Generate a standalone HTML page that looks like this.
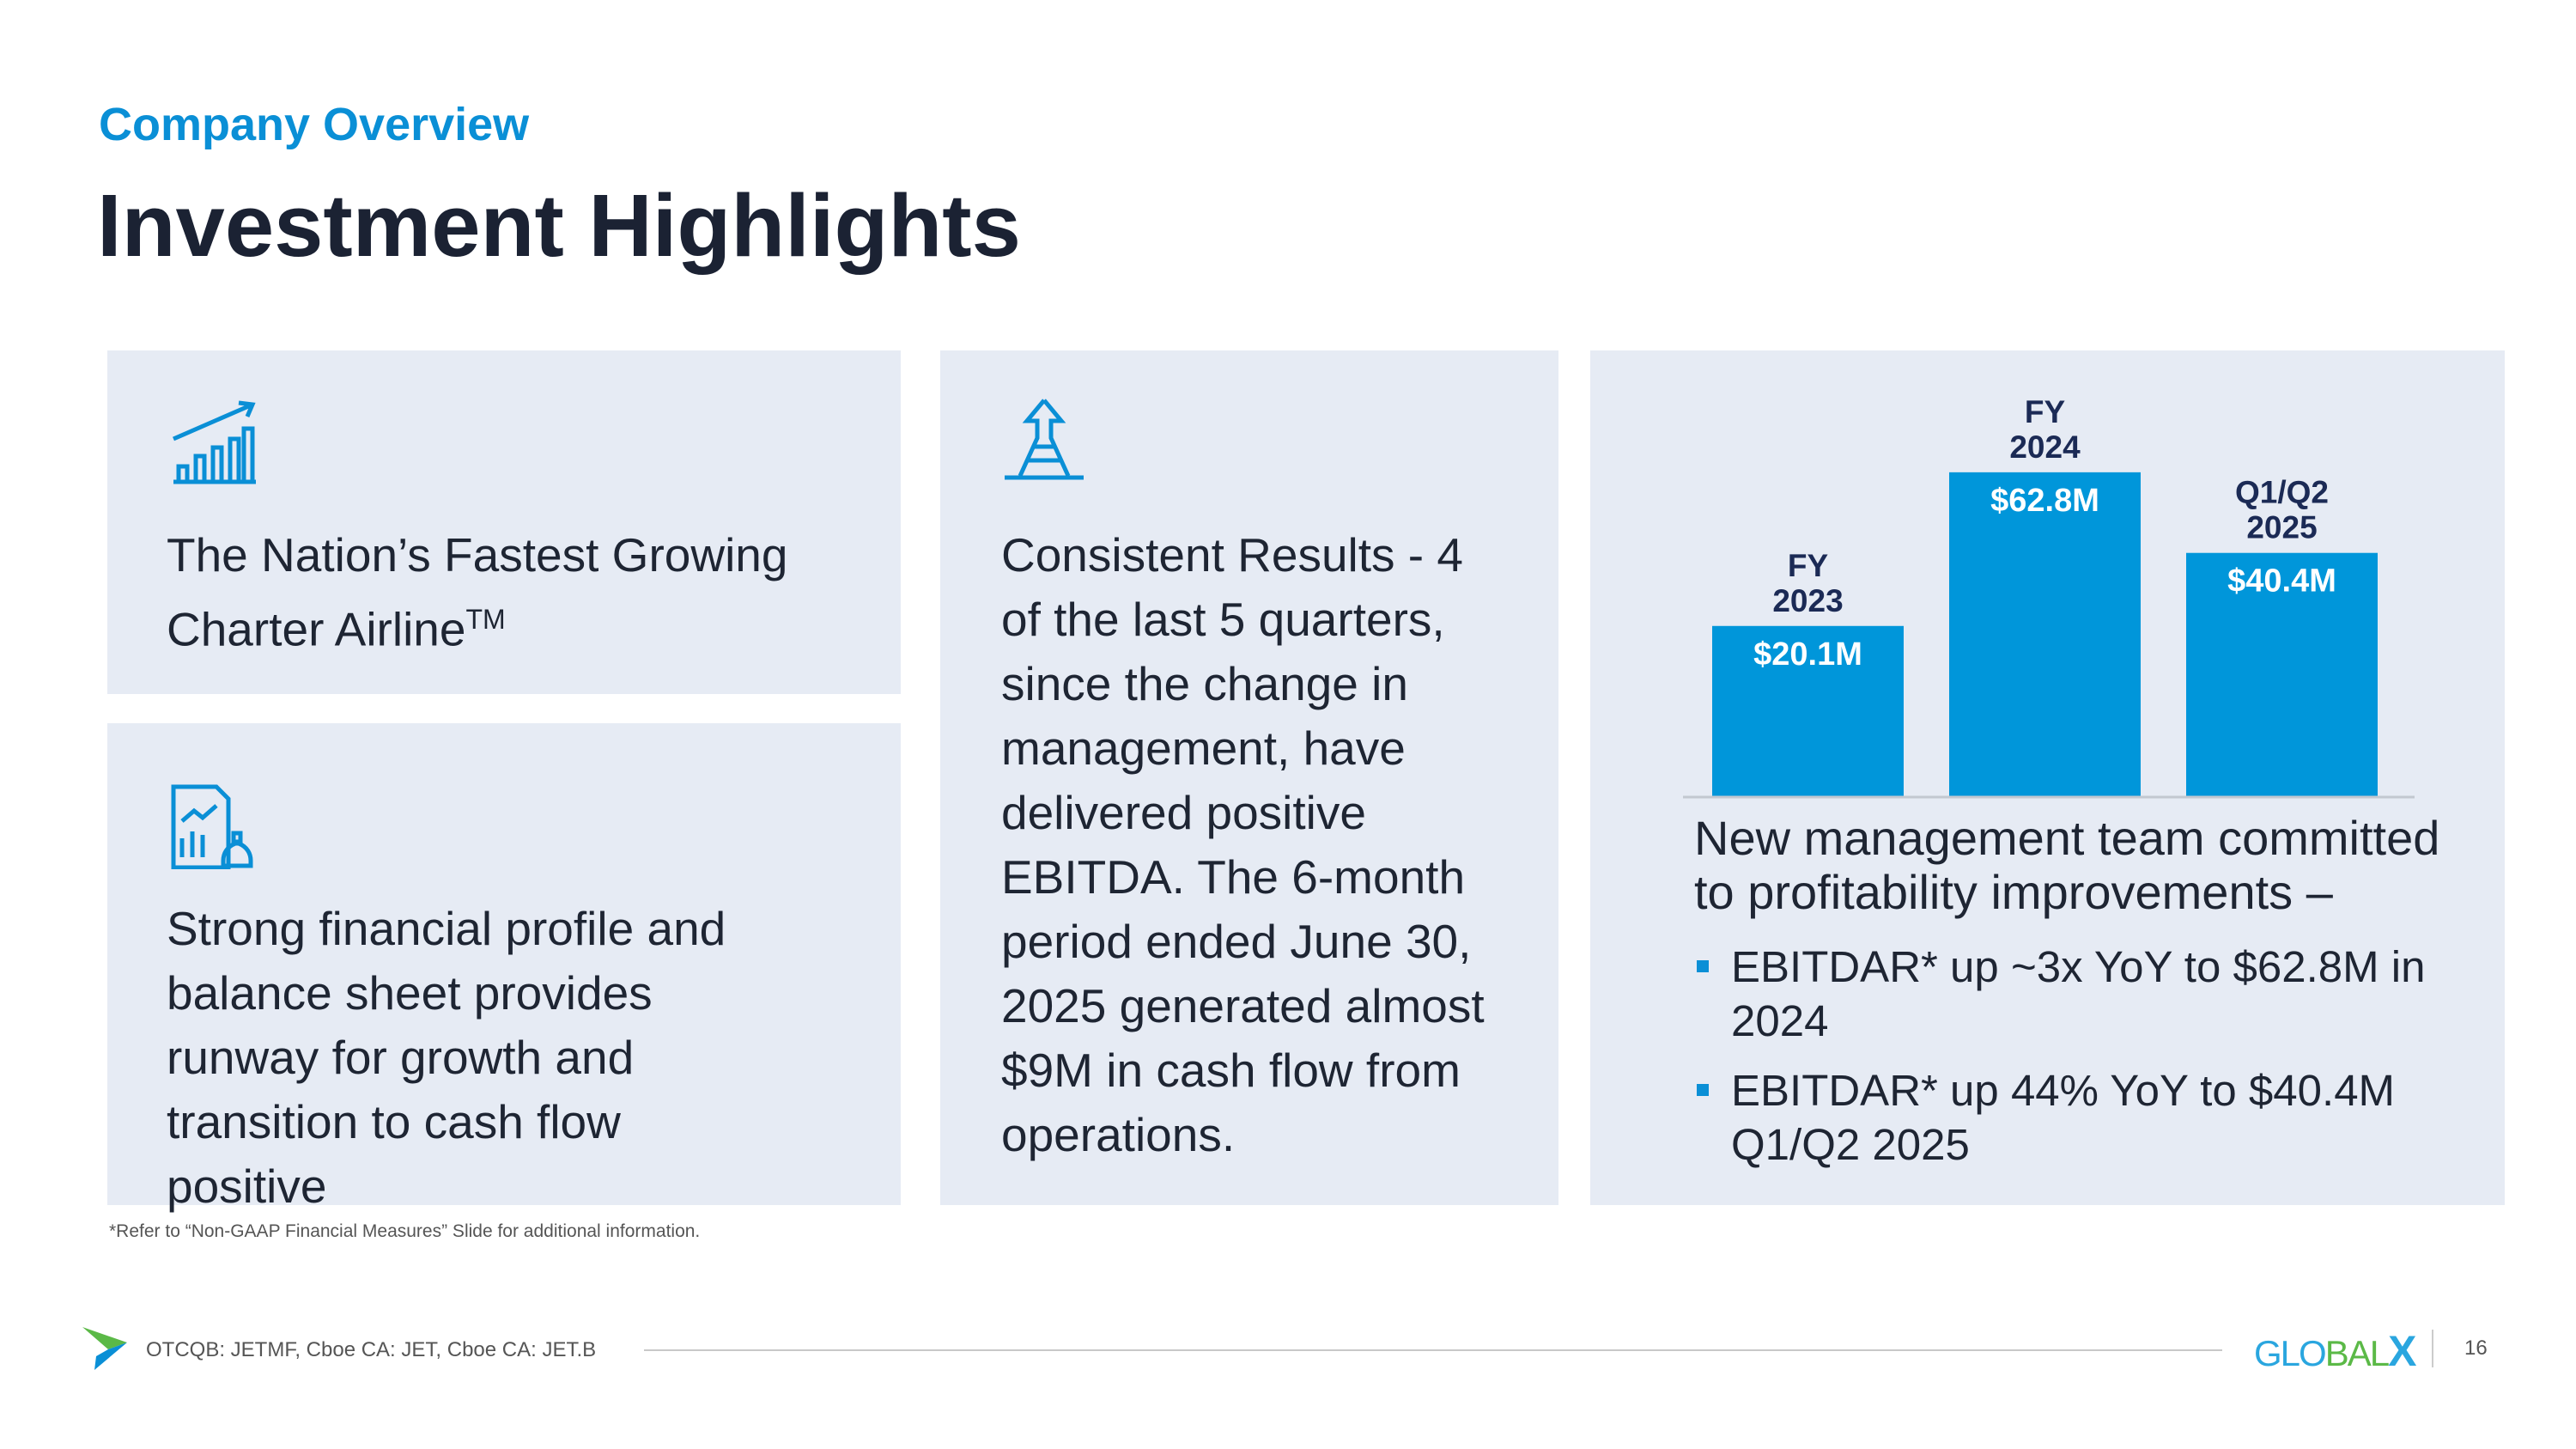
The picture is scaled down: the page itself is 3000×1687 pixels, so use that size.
<!DOCTYPE html>
<html><head><meta charset="utf-8"><style>
body{margin:0;width:3000px;height:1687px;background:#fff;position:relative;overflow:hidden;font-family:"Liberation Sans",sans-serif}
.abs{position:absolute}
.box{position:absolute;background:#e6ebf4}
.txt{position:absolute;font-size:55px;line-height:75px;color:#1e2533}
</style></head><body>
<div class="abs" style="left:115px;top:114px;font-size:54px;font-weight:bold;color:#0a8fd6">Company Overview</div>
<div class="abs" style="left:113px;top:204px;font-size:103px;font-weight:bold;color:#1b2233">Investment Highlights</div>

<div class="box" style="left:125px;top:408px;width:924px;height:400px"></div>
<svg class="abs" style="left:198px;top:465px" width="104" height="100" viewBox="0 0 104 100" fill="none" stroke="#0a8fd6" stroke-width="5">
<path d="M4 96H100"/><path d="M10 96V78h10v18M30 96V66h10v30M50 96V56h10v40M70 96V46h10v50M86 96V34h10v62"/><path d="M4 46L96 6M80 4l16 2-6 14"/></svg>
<div class="txt" style="left:194px;top:609px">The Nation’s Fastest Growing<br>Charter Airline<sup style="font-size:32px">TM</sup></div>

<div class="box" style="left:125px;top:842px;width:924px;height:561px"></div>
<svg class="abs" style="left:198px;top:912px" width="104" height="100" viewBox="0 0 104 100" fill="none" stroke="#0a8fd6" stroke-width="5">
<path d="M4 4h50l14 14v80H4z"/><path d="M14 64v22M26 56v30M38 60v26M14 44l14-12 10 8 16-14"/><path d="M76 70c-10 4-14 12-14 20v6h32v-6c0-8-4-16-14-20z"/><path d="M74 58h8v10h-8z"/></svg>
<div class="txt" style="left:194px;top:1044px">Strong financial profile and<br>balance sheet provides<br>runway for growth and<br>transition to cash flow<br>positive</div>

<div class="box" style="left:1095px;top:408px;width:720px;height:995px"></div>
<svg class="abs" style="left:1166px;top:462px" width="100" height="100" viewBox="0 0 100 100" fill="none" stroke="#0a8fd6" stroke-width="5">
<path d="M50 4L30 28h12v20L22 92M50 4l20 24H58v20l20 44M4 94h92M30 74h40M38 58h24"/></svg>
<div class="txt" style="left:1166px;top:609px">Consistent Results - 4<br>of the last 5 quarters,<br>since the change in<br>management, have<br>delivered positive<br>EBITDA. The 6-month<br>period ended June 30,<br>2025 generated almost<br>$9M in cash flow from<br>operations.</div>

<div class="box" style="left:1852px;top:408px;width:1065px;height:995px"></div>
<svg class="abs" id="chart" style="left:0;top:0" width="3000" height="1687"></svg>
<div class="txt" style="left:1973px;top:944px;font-size:56px;line-height:63px">New management team committed<br>to profitability improvements –</div>
<div class="txt" style="left:2016px;top:1094px;font-size:51px;line-height:63px"><span style="position:absolute;left:-40px;top:24px;width:14px;height:14px;background:#0a8fd6"></span>EBITDAR* up ~3x YoY to $62.8M in<br>2024</div>
<div class="txt" style="left:2016px;top:1238px;font-size:51px;line-height:63px"><span style="position:absolute;left:-40px;top:24px;width:14px;height:14px;background:#0a8fd6"></span>EBITDAR* up 44% YoY to $40.4M<br>Q1/Q2 2025</div>

<div class="abs" style="left:127px;top:1422px;font-size:21px;color:#555">*Refer to “Non-GAAP Financial Measures” Slide for additional information.</div>
<svg class="abs" style="left:96px;top:1545px" width="56" height="50" viewBox="0 0 56 50"><path d="M0 0L52 18 30 26z" fill="#5bb947"/><path d="M30 26L52 18 14 50 16 34z" fill="#0a8fd6"/></svg>
<div class="abs" style="left:170px;top:1558px;font-size:24px;color:#555">OTCQB: JETMF, Cboe CA: JET, Cboe CA: JET.B</div>
<div class="abs" style="left:750px;top:1571px;width:1838px;height:2px;background:#c8c8c8"></div>
<div class="abs" style="left:2625px;top:1544px;font-size:42px;letter-spacing:-2px;color:#2aa6df">GLO<span style="color:#5bb947">BAL</span><b style="font-size:50px">X</b></div>
<div class="abs" style="left:2832px;top:1548px;width:2px;height:44px;background:#ccc"></div>
<div class="abs" style="left:2870px;top:1556px;font-size:24px;color:#555">16</div>

<script>
const categories1=["FY","FY","Q1/Q2"];
const categories2=["2023","2024","2025"];
const values=[20.1,62.8,40.4];
const valueLabels=["$20.1M","$62.8M","$40.4M"];
const svg=document.getElementById('chart');
const NS='http://www.w3.org/2000/svg';
const base=927, bw=223, x0=1994, step=276;
function yScale(v){return base-(114+4.19*v);}
function xScale(i){return x0+i*step;}
function mk(t,a){const e=document.createElementNS(NS,t);for(const k in a)e.setAttribute(k,a[k]);svg.appendChild(e);return e;}
values.forEach((v,i)=>{
  const top=yScale(v), cx=xScale(i)+bw/2;
  const r=mk('rect',{x:xScale(i),y:top,width:bw,height:base-top,fill:'#0096da'});
  
  
  const t=mk('text',{x:cx,y:top+45,'text-anchor':'middle','font-size':38,'font-weight':'bold',fill:'#fff','font-family':'Liberation Sans'});
  t.textContent=valueLabels[i];
  
  
  const l1=mk('text',{x:cx,y:top-58,'text-anchor':'middle','font-size':37,'font-weight':'bold',fill:'#1b2a55','font-family':'Liberation Sans'});
  l1.textContent=categories1[i];
  
  
  const l2=mk('text',{x:cx,y:top-17,'text-anchor':'middle','font-size':37,'font-weight':'bold',fill:'#1b2a55','font-family':'Liberation Sans'});
  l2.textContent=categories2[i];
  
  
});
const ax=mk('line',{x1:1960,x2:2812,y1:base+1,y2:base+1,stroke:'#c3c8d0','stroke-width':3});


</script>
</body></html>
